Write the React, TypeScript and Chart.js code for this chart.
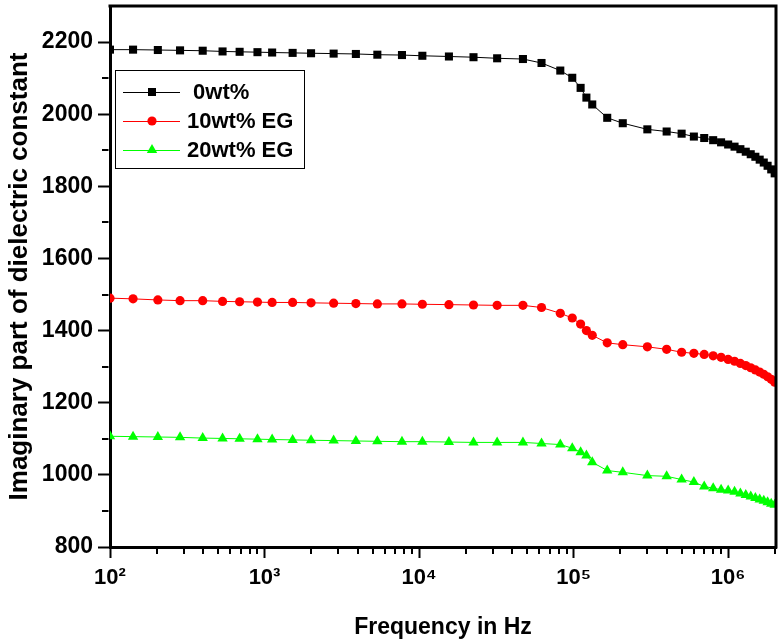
import React, { useEffect, useRef } from 'react';
import { Chart, registerables } from 'chart.js';
Chart.register(...registerables);

const frequencies = [
  100, 141, 204, 284, 398, 535, 690, 900, 1120, 1520, 2000, 2800, 3900, 5370, 7750, 10500, 15600, 22500, 32000,
  47000, 62000, 82000, 98000, 111000, 121000, 132000, 165000, 208000, 300000, 400000, 500000,
  600000, 700000, 800000, 900000, 1000000, 1100000, 1200000, 1300000, 1400000, 1500000, 1600000, 1700000, 1800000, 1900000, 2000000,
];
const eps0wt = [
  2179, 2179, 2178, 2177, 2176, 2174, 2173, 2172, 2171, 2170, 2169, 2168, 2167, 2165, 2164, 2162, 2160, 2158, 2155,
  2153, 2142, 2121, 2101, 2073, 2046, 2027, 1990, 1975, 1958, 1952, 1946,
  1938, 1934, 1928, 1922, 1916, 1910, 1903, 1896, 1889, 1882, 1874, 1866, 1857, 1847, 1836,
];
const eps10wt = [
  1490, 1488, 1485, 1483, 1483, 1481, 1480, 1479, 1478, 1478, 1477, 1476, 1475, 1474, 1474, 1473, 1472, 1471, 1470,
  1470, 1464, 1448, 1435, 1418, 1400, 1387, 1366, 1361, 1355, 1348, 1340,
  1337, 1334, 1330, 1326, 1320, 1315, 1309, 1303, 1297, 1291, 1285, 1279, 1272, 1265, 1257,
];
const eps20wt = [
  1107, 1106, 1105, 1104, 1102, 1101, 1100, 1099, 1098, 1097, 1096, 1095, 1094, 1093, 1092, 1092, 1091, 1090, 1090,
  1090, 1087, 1084, 1074, 1063, 1054, 1035, 1012, 1007, 998, 996, 987,
  980, 968, 963, 959, 957, 953, 948, 944, 940, 936, 932, 928, 924, 920, 917,
];
const seriesLabels = [' 0wt%', '10wt% EG', '20wt% EG'];
const seriesColors = ['#000000', '#ff0000', '#00ff00'];
const seriesStyles = ['rect', 'circle', 'triangle'];
const seriesRadii = [5.7, 4.6, 6];
const xTickLabels = ['10²', '10³', '10⁴', '10⁵', '10⁶'];
const xTickPowers = [2, 3, 4, 5, 6];
const yMin = 800;
const yMax = 2300;
const xMin = 100;
const xMax = 2040000;

const FONT = "'Liberation Sans', Arial, Helvetica, sans-serif";

function isPow10(v: number) {
  const l = Math.log10(v);
  return Math.abs(l - Math.round(l)) < 1e-6;
}

function drawMarker(ctx: CanvasRenderingContext2D, style: string, x: number, y: number, r: number) {
  ctx.beginPath();
  if (style === 'rect') {
    const s = Math.SQRT1_2 * r;
    ctx.rect(x - s, y - s, 2 * s, 2 * s);
  } else if (style === 'circle') {
    ctx.arc(x, y, r, 0, Math.PI * 2);
  } else {
    const w = Math.sin(Math.PI / 3) * r;
    ctx.moveTo(x, y - r);
    ctx.lineTo(x + w, y + r / 2);
    ctx.lineTo(x - w, y + r / 2);
    ctx.closePath();
  }
  ctx.fill();
}

const framePlugin = {
  id: 'frameAndLegend',
  afterDraw(chart: any) {
    const { ctx, chartArea: a, scales } = chart;
    ctx.save();
    // top & right frame lines
    ctx.strokeStyle = '#000';
    ctx.lineWidth = 3;
    ctx.beginPath();
    ctx.moveTo(a.left - 1.5, a.top);
    ctx.lineTo(a.right, a.top);
    ctx.lineTo(a.right, a.bottom + 1.5);
    ctx.stroke();

    // minor ticks
    ctx.lineWidth = 2;
    ctx.beginPath();
    const ys = scales.y;
    for (let v = yMin + 100; v < yMax; v += 200) {
      const py = Math.round(ys.getPixelForValue(v));
      ctx.moveTo(a.left - 1.5, py);
      ctx.lineTo(a.left - 8, py);
    }
    const xs = scales.x;
    for (let d = 2; d <= 6; d++) {
      for (let m = 2; m <= 9; m++) {
        const v = m * Math.pow(10, d);
        if (v >= xMax) continue;
        const px = Math.round(xs.getPixelForValue(v));
        ctx.moveTo(px, a.bottom + 1.5);
        ctx.lineTo(px, a.bottom + 7);
      }
    }
    ctx.stroke();

    // legend box
    const bx = a.left + 5;
    const by = a.top + 64;
    const bw = 189;
    const bh = 98;
    ctx.fillStyle = '#fff';
    ctx.fillRect(bx, by, bw, bh);
    ctx.lineWidth = 1;
    ctx.strokeStyle = '#000';
    ctx.strokeRect(bx + 0.5, by + 0.5, bw, bh);
    chart.data.datasets.forEach((ds: any, i: number) => {
      const cy = by + 22 + i * 29;
      ctx.strokeStyle = seriesColors[i];
      ctx.lineWidth = 1;
      ctx.beginPath();
      ctx.moveTo(bx + 8, cy + 0.5);
      ctx.lineTo(bx + 65, cy + 0.5);
      ctx.stroke();
      ctx.fillStyle = seriesColors[i];
      drawMarker(ctx, seriesStyles[i], bx + 37, cy, seriesRadii[i]);
      ctx.fillStyle = '#000';
      ctx.font = `bold 22px ${FONT}`;
      ctx.textBaseline = 'middle';
      ctx.textAlign = 'left';
      ctx.fillText(ds.label, bx + 72, cy + 1);
    });
    ctx.restore();
  },
};

export default function App() {
  const ref = useRef<HTMLCanvasElement | null>(null);
  useEffect(() => {
    if (!ref.current) return;
    const seriesValues = [eps0wt, eps10wt, eps20wt];
    const chart = new Chart(ref.current, {
      type: 'line',
      data: {
        datasets: seriesValues.map((vals, i) => ({
          label: seriesLabels[i],
          data: frequencies.map((f, k) => ({ x: f, y: vals[k] })),
          borderColor: seriesColors[i],
          backgroundColor: seriesColors[i],
          pointBackgroundColor: seriesColors[i],
          pointBorderColor: seriesColors[i],
          pointBorderWidth: 0,
          borderWidth: 1,
          pointStyle: seriesStyles[i] as any,
          pointRadius: seriesRadii[i],
          tension: 0,
        })),
      },
      options: {
        responsive: false,
        animation: false,
        events: [],
        layout: { padding: { left: 0, top: 3, right: 4, bottom: 0 } },
        plugins: { legend: { display: false }, tooltip: { enabled: false } },
        scales: {
          x: {
            type: 'logarithmic',
            min: xMin,
            max: xMax,
            border: { display: true, width: 3, color: '#000' },
            grid: {
              drawOnChartArea: false,
              drawTicks: true,
              tickLength: 11,
              tickWidth: 2,
              tickColor: (c: any) => (c.tick && isPow10(c.tick.value) ? '#000' : 'rgba(0,0,0,0)'),
            },
            ticks: {
              autoSkip: false,
              maxRotation: 0,
              padding: 7,
              color: '#000',
              font: { family: FONT, size: 22, weight: 'bold' },
              callback: (v: any) => {
                const n = Number(v);
                if (!isPow10(n)) return '';
                const idx = xTickPowers.indexOf(Math.round(Math.log10(n)));
                return idx >= 0 ? xTickLabels[idx] : '';
              },
            },
            title: {
              display: true,
              text: 'Frequency in Hz',
              color: '#000',
              font: { family: FONT, size: 23, weight: 'bold' },
              padding: { top: 0, bottom: 0 },
            },
            afterFit: (s: any) => {
              s.height = 94;
              s.paddingLeft = 0;
              s.paddingRight = 0;
            },
          },
          y: {
            type: 'linear',
            min: yMin,
            max: yMax,
            border: { display: true, width: 3, color: '#000' },
            grid: {
              drawOnChartArea: false,
              drawTicks: true,
              tickLength: 12,
              tickWidth: 2,
              tickColor: (c: any) =>
                c.tick && c.tick.value % 200 === 0 && c.tick.value < yMax ? '#000' : 'rgba(0,0,0,0)',
            },
            ticks: {
              stepSize: 100,
              padding: 5,
              color: '#000',
              font: { family: FONT, size: 23, weight: 'bold' },
              callback: (v: any) => (Number(v) % 200 === 0 && Number(v) < yMax ? String(v) : ''),
            },
            title: {
              display: true,
              text: 'Imaginary part of dielectric constant',
              color: '#000',
              font: { family: FONT, size: 26, weight: 'bold' },
              padding: { top: 4, bottom: 4 },
            },
            afterFit: (s: any) => {
              s.width = 110;
              s.paddingTop = 0;
              s.paddingBottom = 0;
            },
          },
        },
      },
      plugins: [framePlugin],
    });
    return () => chart.destroy();
  }, []);
  return (
    <div style={{ position: 'fixed', left: 0, top: 0, width: 782, height: 641, background: '#fff' }}>
      <canvas ref={ref} width={782} height={641} style={{ display: 'block' }} />
    </div>
  );
}
